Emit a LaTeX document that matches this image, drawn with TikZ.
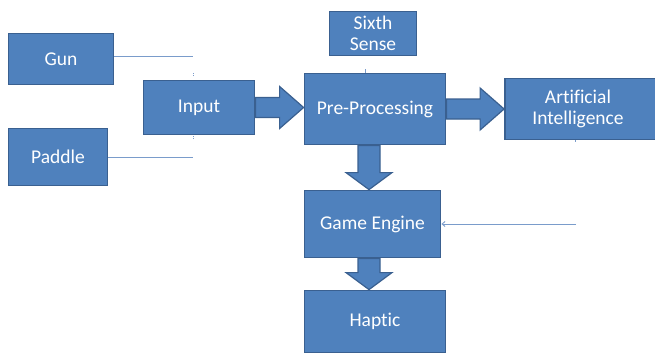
\documentclass[tikz,border=0pt]{standalone}
\usepackage{fontspec}
\setmainfont{Carlito}[Ligatures=NoCommon]
\usetikzlibrary{calc,arrows.meta}
\definecolor{boxfill}{HTML}{4F81BD}
\definecolor{boxline}{HTML}{3A6090}
\definecolor{thinline}{HTML}{7A9CCB}
\tikzset{
  blk/.style={draw=boxline, line width=1.8pt, fill=boxfill, text=white,
    font=\fontsize{19.5}{21}\selectfont, align=center, inner sep=0pt},
  thin/.style={draw=thinline, line width=0.9pt},
  bigarrow/.style={fill=boxfill, draw=boxline, line width=1.2pt, line join=miter},
}
% horizontal block arrow from #1 to #2 (y taken from #1)
\newcommand\harrow[2]{%
  \path[bigarrow] let \p1=(#1), \p2=(#2) in
    (\x1,\y1+10pt) -- (\x2-24pt,\y1+10pt) -- (\x2-24pt,\y1+21pt) -- (\x2,\y1)
    -- (\x2-24pt,\y1-21pt) -- (\x2-24pt,\y1-10pt) -- (\x1,\y1-10pt) -- cycle;}
% vertical block arrow from #1 down to #2 (x taken from #1)
\newcommand\varrow[2]{%
  \path[bigarrow] let \p1=(#1), \p2=(#2) in
    (\x1-11pt,\y1) -- (\x1-11pt,\y2+17pt) -- (\x1-23pt,\y2+17pt) -- (\x1,\y2)
    -- (\x1+23pt,\y2+17pt) -- (\x1+11pt,\y2+17pt) -- (\x1+11pt,\y1) -- cycle;}
\begin{document}
\begin{tikzpicture}[x=1pt,y=-1pt]
  \useasboundingbox (0,0) rectangle (655,356);
  \clip (0,0) rectangle (655,356);

  % boxes
  \node[blk, minimum width=105pt, minimum height=51pt] (gun)    at (61,59)    {Gun};
  \node[blk, minimum width=99pt,  minimum height=57pt] (paddle) at (58,157)   {Paddle};
  \node[blk, minimum width=111pt, minimum height=54pt] (inp)    at (199,107.5){Input};
  \node[blk, minimum width=87pt,  minimum height=44pt] (sixth)  at (373,33.5) {Sixth\\Sense};
  \node[blk, minimum width=141pt, minimum height=71pt] (pre)    at (375,109)  {Pre-Processing};
  \node[blk, minimum width=160pt, minimum height=61pt] (ai)     at (585,109)  {\hspace*{-14pt}Artificial\\\hspace*{-14pt}Intelligence};
  \node[blk, minimum width=136pt, minimum height=67pt] (ge)     at (372.5,224){Game Engine};
  \node[blk, minimum width=141pt, minimum height=62pt] (hap)    at (375,321.5){Haptic};

  % thin connectors
  \coordinate (gunend) at (193,56);
  \coordinate (padend) at (193,157);
  \coordinate (geend)  at (576,224);
  \draw[thin] (gun.east |- gunend) -- (gunend);
  \draw[thin] (paddle.east |- padend) -- (padend);
  \draw[thin, -{Straight Barb[length=3pt,width=5pt]}] (geend) -- (ge.east);

  % short stubs
  \coordinate (inup) at (193,73);
  \coordinate (indn) at (193,139);
  \coordinate (sxs)  at (365,69);
  \coordinate (ais)  at (575,141);
  \draw[thin, densely dotted] (inup) -- ++(0,3);
  \draw[thin, densely dotted] (indn) -- ++(0,-3);
  \draw[thin] (sxs) -- (sxs |- pre.north);
  \draw[thin] (ai.south -| ais) -- ++(0,2);

  % block arrows
  \harrow{inp.east}{pre.west |- inp.east}
  \harrow{pre.east}{ai.west |- pre.east}
  \varrow{$(pre.south)+(-6,0)$}{$(ge.north)+(-3.5,0)$}
  \varrow{$(ge.south)+(-3.5,0)$}{$(hap.north)+(-6,0)$}
\end{tikzpicture}
\end{document}
